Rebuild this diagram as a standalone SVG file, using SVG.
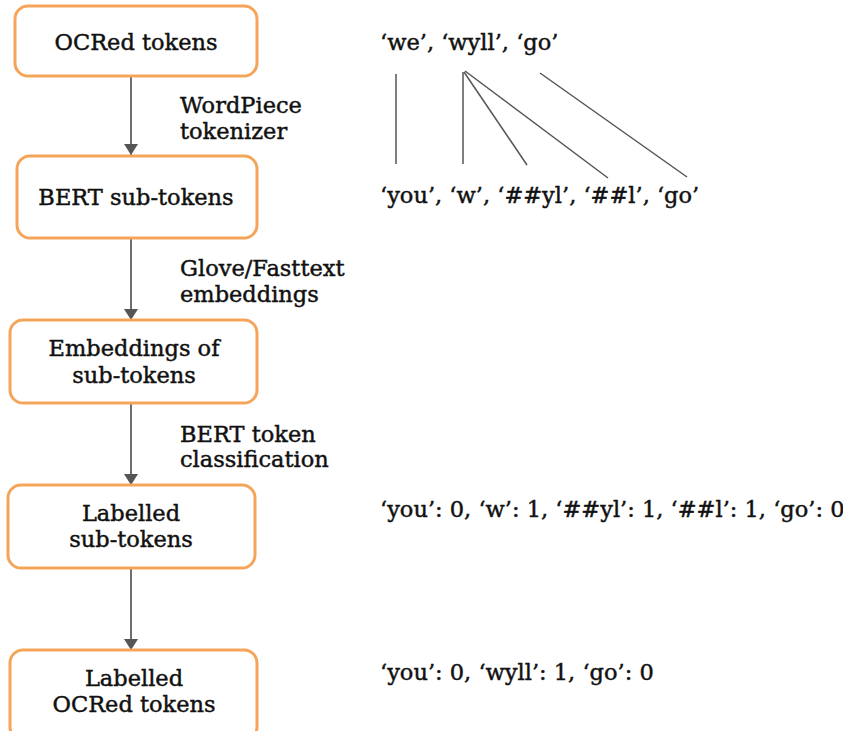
<svg xmlns="http://www.w3.org/2000/svg" width="843" height="731" viewBox="0 0 843 731">
  <style>
    .box { fill: #ffffff; stroke: #f5a55a; stroke-width: 3; }
    .t { font-family: "DejaVu Serif", "Liberation Serif", serif; font-size: 22.5px; fill: #111111; stroke: #111111; stroke-width: 0.45; }
    .c { text-anchor: middle; }
    .edge { stroke: #555555; stroke-width: 1.7; fill: none; }
    .map { stroke: #555555; stroke-width: 1.5; fill: none; }
  </style>
  <defs>
    <marker id="arrow" viewBox="0 0 11 14" refX="11" refY="7" markerWidth="11" markerHeight="14" markerUnits="userSpaceOnUse" orient="auto">
      <path d="M0,0 L11,7 L0,14 Z" fill="#555555"/>
    </marker>
  </defs>
  <rect width="843" height="731" fill="#ffffff"/>

  <g id="connectors">
    <line class="edge" x1="131" y1="76" x2="131" y2="155" marker-end="url(#arrow)"/>
    <line class="edge" x1="131" y1="239" x2="131" y2="320" marker-end="url(#arrow)"/>
    <line class="edge" x1="131" y1="404" x2="131" y2="485" marker-end="url(#arrow)"/>
    <line class="edge" x1="131" y1="569" x2="131" y2="650" marker-end="url(#arrow)"/>
    <text class="t" x="180" y="113">WordPiece</text>
    <text class="t" x="180" y="139">tokenizer</text>
    <text class="t" x="180" y="276">Glove/Fasttext</text>
    <text class="t" x="180" y="302">embeddings</text>
    <text class="t" x="180" y="442">BERT token</text>
    <text class="t" x="180" y="467">classification</text>
  </g>

  <g id="node-ocred">
    <rect class="box" x="15" y="6" width="242" height="70" rx="13"/>
    <text class="t c" x="136" y="50">OCRed tokens</text>
  </g>
  <g id="node-bert-subtokens">
    <rect class="box" x="17" y="156" width="240" height="82" rx="13"/>
    <text class="t c" x="136" y="205">BERT sub-tokens</text>
  </g>
  <g id="node-embeddings">
    <rect class="box" x="10" y="320" width="247" height="83" rx="13"/>
    <text class="t c" x="134" y="356">Embeddings of</text>
    <text class="t c" x="134" y="383">sub-tokens</text>
  </g>
  <g id="node-labelled-subtokens">
    <rect class="box" x="8" y="485" width="247" height="83" rx="13"/>
    <text class="t c" x="131" y="521">Labelled</text>
    <text class="t c" x="131" y="547">sub-tokens</text>
  </g>
  <g id="node-labelled-ocred">
    <rect class="box" x="10" y="650" width="247" height="90" rx="13"/>
    <text class="t c" x="134" y="686">Labelled</text>
    <text class="t c" x="134" y="712">OCRed tokens</text>
  </g>

  <g id="example-ocred">
    <text class="t" x="380" y="50">‘we’, ‘wyll’, ‘go’</text>
  </g>
  <g id="example-mapping">
    <line class="map" x1="396" y1="74" x2="396" y2="164"/>
    <line class="map" x1="463" y1="72" x2="463" y2="164"/>
    <line class="map" x1="464" y1="72" x2="527" y2="165"/>
    <line class="map" x1="465" y1="71" x2="608" y2="178"/>
    <line class="map" x1="540" y1="73" x2="687" y2="177"/>
  </g>
  <g id="example-subtokens">
    <text class="t" x="380" y="203">‘you’, ‘w’, ‘##yl’, ‘##l’, ‘go’</text>
  </g>
  <g id="example-labelled-subtokens">
    <text class="t" x="380" y="517">‘you’: 0, ‘w’: 1, ‘##yl’: 1, ‘##l’: 1, ‘go’: 0</text>
  </g>
  <g id="example-labelled-ocred">
    <text class="t" x="380" y="680">‘you’: 0, ‘wyll’: 1, ‘go’: 0</text>
  </g>
</svg>
